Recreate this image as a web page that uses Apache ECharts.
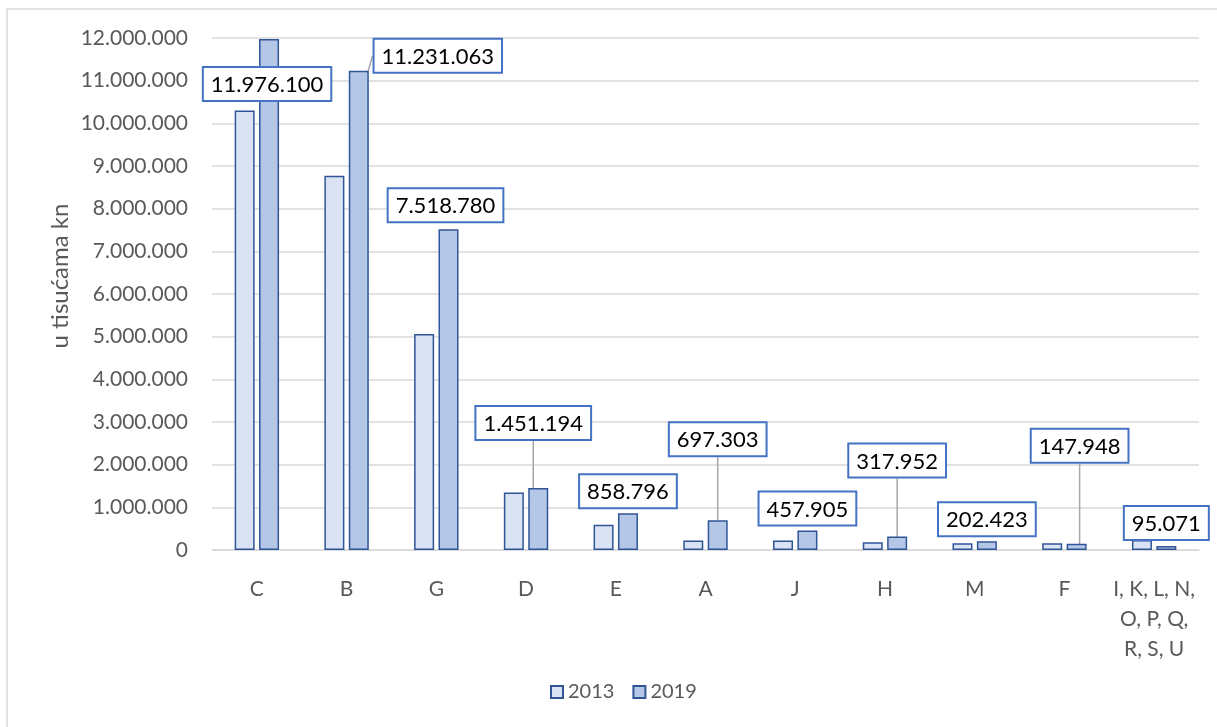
<!DOCTYPE html>
<html>
<head>
<meta charset="utf-8">
<script src="https://cdn.jsdelivr.net/npm/echarts@6/dist/echarts.min.js"></script>
<style>
  html, body { margin: 0; padding: 0; background: #fff; }
  #chart { width: 1217px; height: 727px; }
</style>
</head>
<body>
<div id="chart"></div>
<script>
const categories = ["C", "B", "G", "D", "E", "A", "J", "H", "M", "F", "I, K, L, N,\nO, P, Q,\nR, S, U"];
const values2013 = [10300000, 8770000, 5060000, 1350000, 590000, 220000, 220000, 180000, 160000, 160000, 235000];
const values2019 = [11976100, 11231063, 7518780, 1451194, 858796, 697303, 457905, 317952, 202423, 147948, 95071];
const seriesNames = ["2013", "2019"];
const yTicks = { min: 0, max: 12000000, interval: 1000000 };

// where Excel moved each 2019 label, relative to the default "top" spot
const labelShift = [[-2, 66], [79, 6], [-3, -3], [-5, -44], [0, -1], [0, -60], [0, -1], [0, -55], [0, -1], [3, -77], [0, -2]];
const withLeader = [false, true, false, true, false, true, false, true, false, true, false];

const font = "Lato";
const fmt = (v) => String(v).replace(/\B(?=(\d{3})+(?!\d))/g, ".");

const chart = echarts.init(document.getElementById("chart"));

chart.setOption({
  animation: false,
  textStyle: { fontFamily: font },
  graphic: [
    {
      type: "rect",
      shape: { x: 7, y: 9, width: 1300, height: 800 },
      style: { fill: "none", stroke: "#d9d9d9", lineWidth: 1.5 }
    },
    {
      type: "text",
      x: 60,
      y: 276,
      rotation: Math.PI / 2,
      style: {
        text: "u tisućama kn",
        fill: "#595959",
        font: "24px Lato",
        align: "center",
        verticalAlign: "middle"
      }
    }
  ],
  legend: {
    bottom: 20,
    left: 545,
    itemWidth: 12,
    itemHeight: 12,
    itemGap: 18,
    icon: "rect",
    textStyle: { color: "#595959", fontSize: 20, fontFamily: font },
    data: seriesNames
  },
  grid: { left: 212, right: 18, top: 38, bottom: 177 },
  xAxis: {
    type: "category",
    data: categories,
    axisLine: { lineStyle: { color: "#d9d9d9", width: 1.5 } },
    axisTick: { show: false },
    axisLabel: { color: "#595959", fontSize: 21, margin: 24, lineHeight: 30, interval: 0 }
  },
  yAxis: {
    type: "value",
    min: yTicks.min,
    max: yTicks.max,
    interval: yTicks.interval,
    axisLine: { show: false },
    axisTick: { show: false },
    axisLabel: { color: "#595959", fontSize: 21, margin: 24, formatter: fmt },
    splitLine: { lineStyle: { color: "#d9d9d9", width: 1.5 } }
  },
  series: [
    {
      name: seriesNames[0],
      type: "bar",
      barWidth: 20,
      barGap: "22%",
      data: values2013,
      itemStyle: { color: "#dae3f3", borderColor: "#2f5597", borderWidth: 1.5 }
    },
    {
      name: seriesNames[1],
      type: "bar",
      barWidth: 20,
      data: values2019.map((v, i) => ({ value: v, labelLine: { show: withLeader[i] } })),
      itemStyle: { color: "#b4c7e7", borderColor: "#2f5597", borderWidth: 1.5 },
      label: {
        show: true,
        position: "top",
        distance: 5,
        formatter: (p) => fmt(p.value),
        color: "#000",
        fontSize: 22,
        fontFamily: font,
        backgroundColor: "#fff",
        borderColor: "#4472c4",
        borderWidth: 2,
        padding: [6, 7, 4, 7]
      },
      labelLine: { show: true, lineStyle: { color: "#a6a6a6", width: 1.5 } },
      labelLayout: (p) => ({ dx: labelShift[p.dataIndex][0], dy: labelShift[p.dataIndex][1] })
    }
  ]
});

window.addEventListener("resize", () => chart.resize());
</script>
</body>
</html>
